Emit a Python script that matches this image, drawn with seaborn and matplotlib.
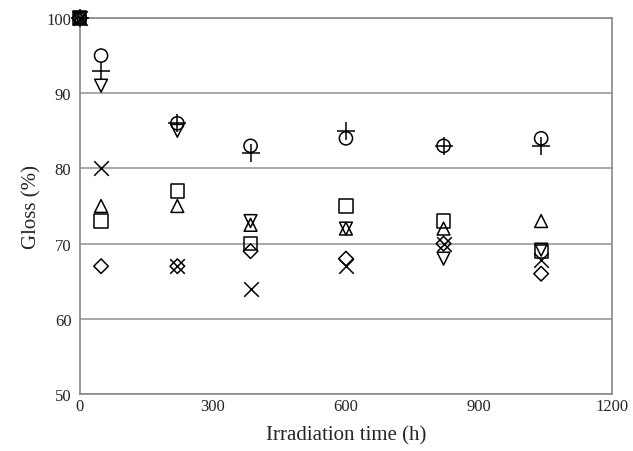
import matplotlib
matplotlib.use("Agg")
import matplotlib.pyplot as plt
import seaborn as sns
import pandas as pd

# irradiation times (h) and gloss (%) per sample series
times = [0, 48, 220, 385, 600, 820, 1040]
circle = [100, 95, 86, 83, 84, 83, 84]
plus = [100, 93, 86, 82, 85, 83, 83]
tri_down = [100, 91, 85, 73, 72, 68, 69.2]
cross = [100, 80, 67, 64, 67, 70, 67.8]
tri_up = [100, 75, 75, 72.5, 72, 72.0, 73]
square = [100, 73, 77, 70, 75, 73, 69]
diamond = [100, 67, 67, 69, 68, 70, 66]

SERIES = [
    ("circle", circle, "o", 90),
    ("plus", plus, "+", 150),
    ("tri_down", tri_down, "v", 85),
    ("cross", cross, "x", 110),
    ("tri_up", tri_up, "^", 85),
    ("square", square, "s", 90),
    ("diamond", diamond, "D", 55),
]

sns.set_style("white")
plt.rcParams["font.family"] = ["Liberation Serif", "DejaVu Serif"]

fig = plt.figure(figsize=(6.33, 4.52), dpi=100)
ax = fig.add_axes([0.126, 0.126, 0.841, 0.832])

for name, vals, m, s in SERIES:
    df = pd.DataFrame({"time": times, "gloss": vals})
    if m in ("+", "x"):
        sns.scatterplot(data=df, x="time", y="gloss", marker=m, s=s, color="black",
                        linewidth=1.1, ax=ax, zorder=3, clip_on=False)
    else:
        sns.scatterplot(data=df, x="time", y="gloss", marker=m, s=s, facecolor="none",
                        edgecolor="black", linewidth=1.1, ax=ax, zorder=3, clip_on=False)

ax.set_xlim(0, 1200)
ax.set_ylim(50, 100)
ax.set_xticks([0, 300, 600, 900, 1200])
ax.set_yticks([50, 60, 70, 80, 90, 100])
ax.yaxis.grid(True, color="#999999", linewidth=1.2)
ax.set_axisbelow(True)
for sp in ax.spines.values():
    sp.set_color("#888888")
    sp.set_linewidth(1.2)
ax.tick_params(axis="x", direction="in", length=4, color="#888888", labelsize=12, pad=3)
ax.tick_params(axis="y", length=0, labelsize=12, pad=6)
ax.set_xlabel("Irradiation time (h)", fontsize=15, labelpad=8)
ax.set_ylabel("Gloss (%)", fontsize=15, labelpad=4)

fig.savefig("out.png", dpi=100)
